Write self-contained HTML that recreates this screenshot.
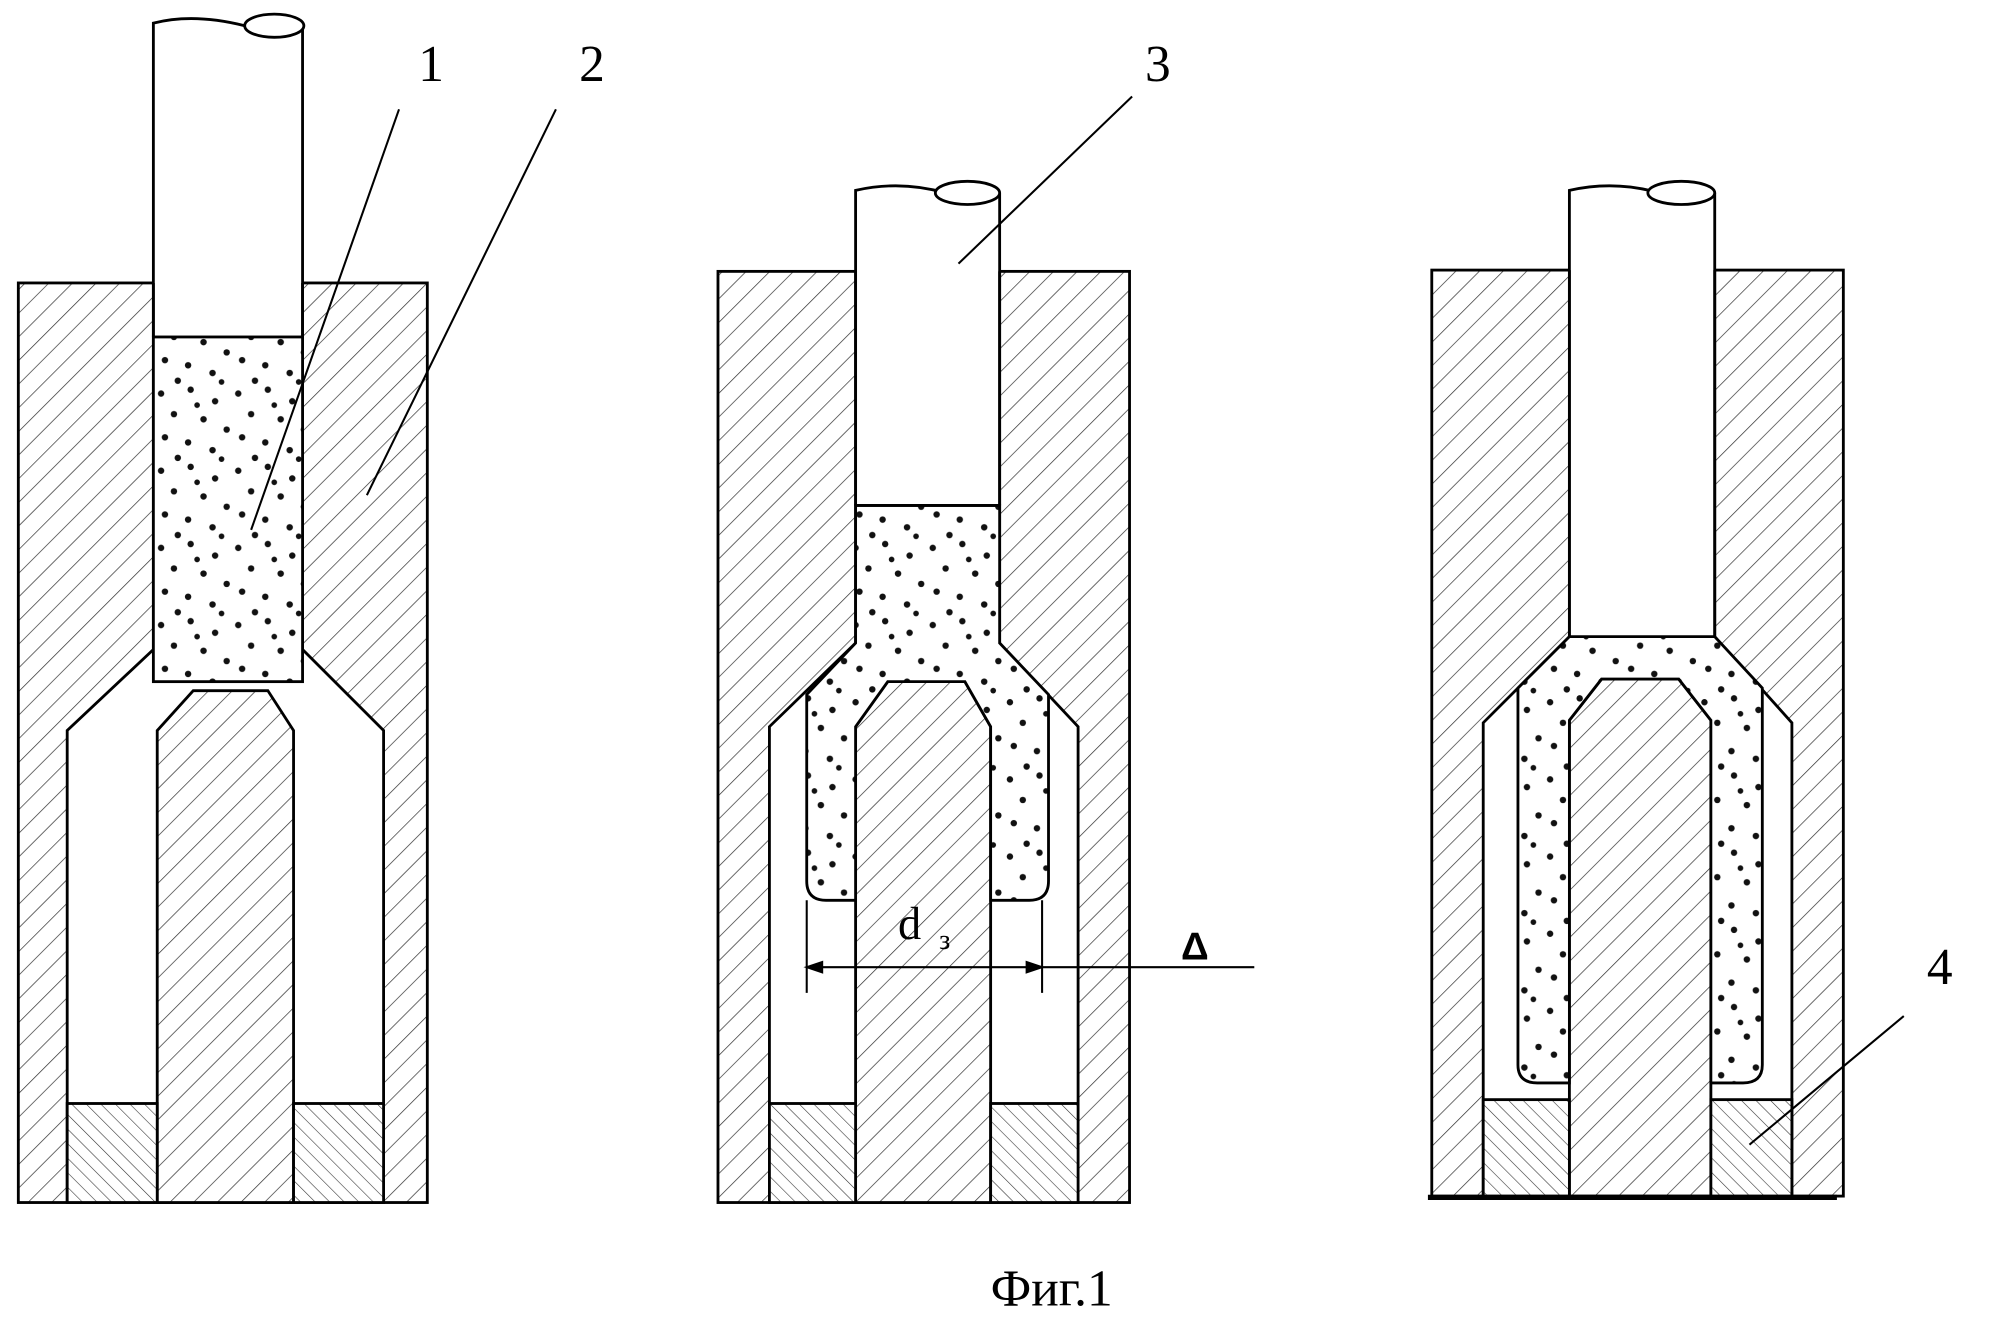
<!DOCTYPE html>
<html><head><meta charset="utf-8"><style>html,body{margin:0;padding:0;background:#fff}svg{display:block}</style></head>
<body>
<svg width="2007" height="1335" viewBox="0 0 1560 1038" xmlns="http://www.w3.org/2000/svg">
<defs>
<pattern id="h" width="13" height="13" patternUnits="userSpaceOnUse" patternTransform="rotate(45)">
<rect width="13" height="13" fill="#fff"/><line x1="0" y1="0" x2="0" y2="13" stroke="#333" stroke-width="1.1"/></pattern>
<pattern id="h2" width="8" height="8" patternUnits="userSpaceOnUse" patternTransform="rotate(-45)">
<rect width="8" height="8" fill="#fff"/><line x1="0" y1="0" x2="0" y2="8" stroke="#333" stroke-width="0.9"/></pattern>
<pattern id="d" width="60" height="60" patternUnits="userSpaceOnUse">
<rect width="60" height="60" fill="#fff"/>
<g fill="#111">
<circle cx="5" cy="6" r="2.5"/><circle cx="28" cy="3" r="2.5"/><circle cx="47" cy="12" r="2.5"/>
<circle cx="15" cy="22" r="2.5"/><circle cx="38" cy="26" r="2.5"/><circle cx="56" cy="34" r="2.5"/>
<circle cx="8" cy="40" r="2.5"/><circle cx="26" cy="44" r="2.5"/><circle cx="45" cy="50" r="2.5"/>
<circle cx="18" cy="56" r="2.5"/><circle cx="33" cy="15" r="2.2"/><circle cx="52" cy="57" r="2.2"/>
</g></pattern>
</defs>
<g stroke="#000" stroke-width="2.2" stroke-linejoin="miter">
<!-- Fig 1 -->
<rect x="14" y="220" width="318" height="715" fill="url(#h)"/>
<polygon points="119,217 235,217 235,505 298,568 298,935 52,935 52,568 119,505" fill="#fff" stroke="none"/>
<path d="M235,220 V505 L298,568 V935 M52,935 V568 L119,505 V220" fill="none"/>
<polygon points="122,935 122,568 150,537 208,537 228,568 228,935" fill="url(#h)"/>
<rect x="52" y="858" width="70" height="77" fill="url(#h2)"/>
<rect x="228" y="858" width="70" height="77" fill="url(#h2)"/>
<rect x="119" y="262" width="116" height="268" fill="url(#d)"/>
<path d="M119,262 V18 Q150,10 190,20 M235,262 V20" fill="none"/>
<ellipse cx="213" cy="20" rx="23" ry="9" fill="#fff"/>
<!-- Fig 2 -->
<rect x="558" y="211" width="320" height="724" fill="url(#h)"/>
<polygon points="665,208 777,208 777,500 838,565 838,935 598,935 598,565 665,500" fill="#fff" stroke="none"/>
<path d="M777,211 V500 L838,565 V935 M598,935 V565 L665,500 V211" fill="none"/>
<polygon points="665,935 665,565 690,530 750,530 770,565 770,935" fill="url(#h)"/>
<rect x="598" y="858" width="67" height="77" fill="url(#h2)"/>
<rect x="770" y="858" width="68" height="77" fill="url(#h2)"/>
<path d="M665,393 H777 V500 L815,540 V685 Q815,700 800,700 H770 V565 L750,530 H690 L665,565 V700 H642 Q627,700 627,685 V540 L665,500 Z" fill="url(#d)"/>
<path d="M665,393 V148 Q700,140 735,150 M777,393 V150 M665,393 H777" fill="none"/>
<ellipse cx="752" cy="150" rx="25" ry="9" fill="#fff"/>
<!-- Fig 3 -->
<rect x="1113" y="210" width="320" height="720" fill="url(#h)"/>
<polygon points="1220,207 1333,207 1333,495 1393,562 1393,930 1153,930 1153,562 1220,495" fill="#fff" stroke="none"/>
<path d="M1333,210 V495 L1393,562 V930 M1153,930 V562 L1220,495 V210" fill="none"/>
<polygon points="1220,930 1220,560 1245,528 1305,528 1330,560 1330,930" fill="url(#h)"/>
<rect x="1153" y="855" width="67" height="75" fill="url(#h2)"/>
<rect x="1330" y="855" width="63" height="75" fill="url(#h2)"/>
<path d="M1220,495 H1333 L1370,535 V828 Q1370,842 1355,842 H1330 V560 L1305,528 H1245 L1220,560 V842 H1195 Q1180,842 1180,828 V535 Z" fill="url(#d)"/>
<path d="M1220,495 V148 Q1255,140 1290,150 M1333,495 V150" fill="none"/>
<ellipse cx="1307" cy="150" rx="26" ry="9" fill="#fff"/>
<line x1="1110" y1="931" x2="1428" y2="931" stroke-width="4"/>
</g>
<g stroke="#000" stroke-width="1.6" fill="none">
<line x1="310" y1="85" x2="195" y2="412"/>
<line x1="432" y1="85" x2="285" y2="385"/>
<line x1="880" y1="75" x2="745" y2="205"/>
<line x1="1480" y1="790" x2="1360" y2="890"/>
<line x1="627" y1="700" x2="627" y2="772"/>
<line x1="810" y1="700" x2="810" y2="772"/>
<line x1="627" y1="752" x2="975" y2="752"/>
<path d="M627,752 l12,-4 v8 z M810,752 l-12,-4 v8 z" fill="#000"/>
</g>
<g font-family="Liberation Serif, serif" fill="#000">
<text x="325" y="63" font-size="40">1</text>
<text x="450" y="63" font-size="40">2</text>
<text x="890" y="63" font-size="40">3</text>
<text x="1498" y="765" font-size="40">4</text>
<text x="698" y="730" font-size="36">d</text>
<text x="730" y="738" font-size="22">з</text>
<text x="918" y="746" font-size="30" font-weight="bold" font-family="Liberation Sans, sans-serif">Δ</text>
<text x="770" y="1015" font-size="40">Фиг.1</text>
</g>
</svg>
</body></html>
